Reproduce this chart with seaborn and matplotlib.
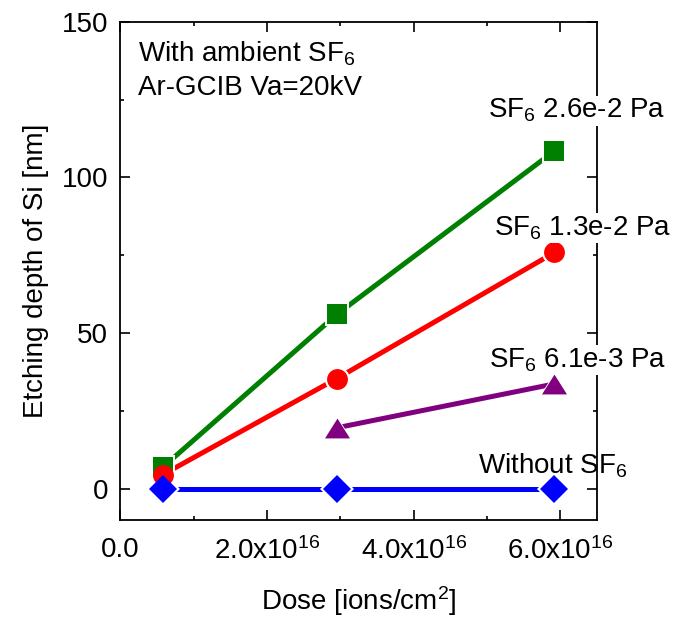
import matplotlib
matplotlib.use("Agg")
import matplotlib.pyplot as plt
import seaborn as sns
from matplotlib.ticker import FixedLocator, MultipleLocator

# ---- data ----
dose = [0.58e16, 2.95e16, 5.92e16]
depth_26e2 = [7.0, 56.0, 108.5]      # SF6 2.6e-2 Pa
depth_13e2 = [4.6, 35.4, 75.9]       # SF6 1.3e-2 Pa
dose_61e3 = [2.95e16, 5.92e16]
depth_61e3 = [19.6, 33.7]            # SF6 6.1e-3 Pa
depth_none = [0.0, 0.0, 0.0]         # Without SF6

x_ticks = [0, 2e16, 4e16, 6e16]
x_tick_labels = ["0.0", r"2.0x10$^{16}$", r"4.0x10$^{16}$", r"6.0x10$^{16}$"]
y_ticks = [0, 50, 100, 150]

series_labels = [r"SF$_6$ 2.6e-2 Pa", r"SF$_6$ 1.3e-2 Pa", r"SF$_6$ 6.1e-3 Pa", r"Without SF$_6$"]
note_lines = [r"With ambient SF$_6$", "Ar-GCIB Va=20kV"]
x_label = r"Dose [ions/cm$^2$]"
y_label = "Etching depth of Si [nm]"

sns.set_style("ticks")
plt.rcParams["font.family"] = ["Liberation Sans", "DejaVu Sans"]
plt.rcParams["mathtext.fontset"] = "custom"
plt.rcParams["mathtext.rm"] = "Liberation Sans"
plt.rcParams["mathtext.it"] = "Liberation Sans:italic"
plt.rcParams["mathtext.bf"] = "Liberation Sans:bold"
plt.rcParams["mathtext.default"] = "regular"
for k in ["text.color", "axes.labelcolor", "xtick.color", "ytick.color",
          "xtick.labelcolor", "ytick.labelcolor", "axes.edgecolor"]:
    plt.rcParams[k] = "black"

FS = 20
fig = plt.figure(figsize=(6.87, 6.20), dpi=100)
ax = fig.add_axes([0.1754, 0.1613, 0.6936, 0.8037])

tri = [(-1.26, -1.0), (1.26, -1.0), (0.0, 1.0)]
series = [
    (dose, depth_26e2, "#008000", "s", 13.7),
    (dose, depth_13e2, "#ff0000", "o", 15.0),
    (dose_61e3, depth_61e3, "#800080", tri, 18.0),
    (dose, depth_none, "#0000ff", "D", 14.5),
]
LW = 3.6
for x, y, c, m, ms in series:
    sns.lineplot(x=x, y=y, ax=ax, color=c, lw=LW, zorder=2, solid_capstyle="round")
for x, y, c, m, ms in series:
    sns.lineplot(x=x, y=y, ax=ax, color="white", marker=m, markersize=ms + 3.0,
                 linestyle="none", markeredgewidth=0, zorder=2.4)
for x, y, c, m, ms in series:
    sns.lineplot(x=x, y=y, ax=ax, color=c, marker=m, markersize=ms,
                 linestyle="none", markeredgewidth=0, zorder=3)

ax.set_xlim(0, 6.5e16)
ax.set_ylim(-10, 150)
ax.xaxis.set_major_locator(FixedLocator(x_ticks))
ax.set_xticklabels(x_tick_labels)
ax.xaxis.set_minor_locator(MultipleLocator(1e16))
ax.yaxis.set_major_locator(FixedLocator(y_ticks))
ax.yaxis.set_minor_locator(MultipleLocator(25))

for s in ax.spines.values():
    s.set_visible(True)
    s.set_linewidth(1.3)
    s.set_color("black")
ax.tick_params(which="both", direction="in", top=True, right=True, width=1.2,
               color="black", labelcolor="black")
ax.tick_params(which="major", length=7.2)
ax.tick_params(which="minor", length=3.2)
ax.tick_params(axis="x", which="major", labelsize=FS, pad=12.5)
ax.tick_params(axis="y", which="major", labelsize=FS, pad=9)

ax.set_xlabel(x_label, fontsize=FS, labelpad=14)
ax.set_ylabel(y_label, fontsize=FS, labelpad=9)

wb = dict(boxstyle="square,pad=0.05", fc="white", ec="none")
ax.text(5.01e16, 119.1, series_labels[0], fontsize=FS, va="baseline", ha="left",
        bbox=wb, clip_on=False, zorder=5)
ax.text(5.09e16, 81.4, series_labels[1], fontsize=FS, va="baseline", ha="left",
        bbox=wb, clip_on=False, zorder=5)
ax.text(5.02e16, 39.0, series_labels[2], fontsize=FS, va="baseline", ha="left",
        bbox=wb, clip_on=False, zorder=5)
ax.text(4.88e16, 4.8, series_labels[3], fontsize=FS, va="baseline", ha="left",
        clip_on=False, zorder=5)

ax.text(0.036, 0.92, note_lines[0], transform=ax.transAxes, fontsize=FS, va="baseline", ha="left")
ax.text(0.036, 0.853, note_lines[1], transform=ax.transAxes, fontsize=FS, va="baseline", ha="left")

fig.savefig("out.png", dpi=100)
